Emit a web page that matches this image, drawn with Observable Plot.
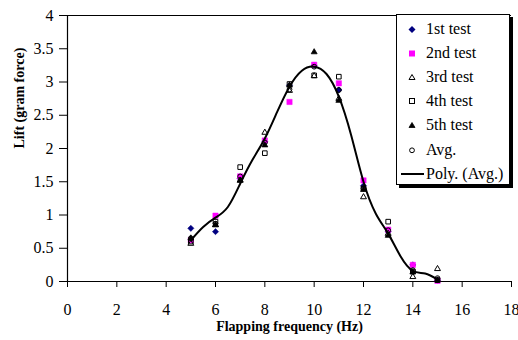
<!DOCTYPE html>
<html>
<head>
<meta charset="utf-8">
<script src="https://cdn.jsdelivr.net/npm/d3@7"></script>
<script src="https://cdn.jsdelivr.net/npm/@observablehq/plot@0.6"></script>
<style>
  html, body { margin: 0; padding: 0; background: #fff; }
  #wrap { position: relative; width: 518px; height: 340px; font-family: "Liberation Serif", "Tinos", "Times New Roman", "DejaVu Serif", serif; }
  #wrap svg text { font-family: "Liberation Serif", "Tinos", "Times New Roman", "DejaVu Serif", serif; }
  #legend { position: absolute; left: 396px; top: 14px; width: 112px; height: 169px; border: 1px solid #000; background: #fff; box-shadow: 3px 3px 0 #000; }
  .entry { position: absolute; left: 0; height: 24px; line-height: 24px; font-size: 16px; color: #000; white-space: nowrap; }
  .entry svg { position: absolute; left: 0; top: 0; }
  .entry span { position: absolute; left: 29px; top: 0; }
</style>
</head>
<body>
<div id="wrap"></div>
<script>
// ---- data ----
const freq  = [5, 6, 7, 8, 9, 10, 11, 12, 13, 14, 15];
const test1 = [0.80, 0.75, 1.55, 2.10, 2.95, 3.25, 2.88, 1.44, 0.75, 0.25, 0.02];
const test2 = [0.62, 0.99, 1.58, 2.12, 2.70, 3.26, 2.98, 1.52, 0.78, 0.25, 0.01];
const test3 = [0.57, 0.85, 1.52, 2.24, 2.87, 3.09, 2.75, 1.27, 0.72, 0.07, 0.19];
const test4 = [0.60, 0.90, 1.72, 1.93, 2.97, 3.10, 3.08, 1.40, 0.90, 0.15, 0.02];
const test5 = [0.65, 0.85, 1.52, 2.05, 2.95, 3.45, 2.72, 1.38, 0.69, 0.14, 0.02];
const avg   = [0.65, 0.87, 1.58, 2.09, 2.89, 3.23, 2.88, 1.40, 0.77, 0.17, 0.05];

// polynomial trend line (Avg.)
const polyFreq = [5, 5.5, 6, 6.5, 7, 7.5, 8, 8.5, 9, 9.5, 10, 10.5, 11, 11.5, 12, 12.5, 13, 13.5, 14, 14.5, 15];
const polyLift = [0.62, 0.82, 0.96, 1.12, 1.47, 1.83, 2.15, 2.55, 2.93, 3.17, 3.23, 3.12, 2.78, 2.2, 1.5, 1.02, 0.72, 0.38, 0.16, 0.12, 0.03];

const xTicks = [0, 2, 4, 6, 8, 10, 12, 14, 16, 18];
const yTicks = [0, 0.5, 1, 1.5, 2, 2.5, 3, 3.5, 4];
const yTickLabels = ["0", "0.5", "1", "1.5", "2", "2.5", "3", "3.5", "4"];

const xTitle = "Flapping frequency (Hz)";
const yTitle = "Lift (gram force)";
const legendLabels = ["1st test", "2nd test", "3rd test", "4th test", "5th test", "Avg.", "Poly. (Avg.)"];

// ---- tables ----
const rows = vals => freq.map((f, i) => ({f, v: vals[i]}));
const poly = polyFreq.map((f, i) => ({f, v: polyLift[i]}));
const serif = '"Liberation Serif", "Tinos", "Times New Roman", "DejaVu Serif", serif';

const chart = Plot.plot({
  width: 518,
  height: 340,
  marginLeft: 67,
  marginRight: 7,
  marginTop: 15,
  marginBottom: 59,
  style: {fontFamily: serif, fontSize: "16px", color: "#000", background: "#fff"},
  x: {domain: [0, 18]},
  y: {domain: [0, 4]},
  marks: [
    Plot.axisX({ticks: xTicks, tickSize: 6, tickPadding: 16, label: null, stroke: "#000", tickFormat: d => String(d)}),
    Plot.axisY({ticks: yTicks, tickSize: 8, tickPadding: 6, label: null, stroke: "#000", tickFormat: d => yTickLabels[yTicks.indexOf(d)]}),
    Plot.ruleX([0], {stroke: "#000", strokeWidth: 1.2}),
    Plot.ruleY([0], {stroke: "#000", strokeWidth: 1.2}),
    Plot.ruleY([4], {stroke: "#000", strokeWidth: 1}),
    Plot.dot(rows(test1), {x: "f", y: "v", symbol: "diamond2", r: 2.8, fill: "#000080", stroke: "#000080", strokeWidth: 0.5}),
    Plot.dot(rows(test2), {x: "f", y: "v", symbol: "square", r: 3, fill: "#ff00ff", stroke: "#ff00ff", strokeWidth: 0.5}),
    Plot.dot(rows(test3), {x: "f", y: "v", symbol: "triangle", r: 2.2, fill: "none", stroke: "#000", strokeWidth: 1}),
    Plot.dot(rows(test4), {x: "f", y: "v", symbol: "square", r: 2.6, fill: "none", stroke: "#000", strokeWidth: 1}),
    Plot.dot(rows(test5), {x: "f", y: "v", symbol: "triangle", r: 2.2, fill: "#000", stroke: "#000", strokeWidth: 0.8}),
    Plot.dot(rows(avg), {x: "f", y: "v", symbol: "circle", r: 2.4, fill: "none", stroke: "#000", strokeWidth: 1}),
    Plot.line(poly, {x: "f", y: "v", curve: "natural", stroke: "#000", strokeWidth: 2}),
    Plot.text([xTitle], {frameAnchor: "bottom", dy: 49, fontWeight: "bold", fontSize: 14, fill: "#000"}),
    Plot.text([yTitle], {frameAnchor: "left", dx: -48, rotate: -90, fontWeight: "bold", fontSize: 14, fill: "#000"})
  ]
});

const wrap = document.getElementById("wrap");
wrap.appendChild(chart);

// ---- legend ----
const legend = document.createElement("div");
legend.id = "legend";
const markers = [
  '<path d="M15 9 L18.5 12.5 L15 16 L11.5 12.5 Z" fill="#000080"/>',
  '<rect x="12" y="9.5" width="6" height="6" fill="#ff00ff"/>',
  '<path d="M15 9.5 L18 14.5 L12 14.5 Z" fill="none" stroke="#000" stroke-width="1"/>',
  '<rect x="12.5" y="9.5" width="5" height="5" fill="none" stroke="#000" stroke-width="1"/>',
  '<path d="M15 9.5 L18 14.5 L12 14.5 Z" fill="#000" stroke="#000" stroke-width="0.8"/>',
  '<circle cx="15" cy="12.3" r="2.4" fill="none" stroke="#000" stroke-width="1"/>',
  '<line x1="4" y1="12" x2="27" y2="12" stroke="#000" stroke-width="2"/>'
];
legendLabels.forEach((lab, i) => {
  const e = document.createElement("div");
  e.className = "entry";
  e.style.top = (2 + i * 24.1) + "px";
  e.innerHTML = `<svg width="30" height="24">${markers[i]}</svg><span>${lab}</span>`;
  legend.appendChild(e);
});
wrap.appendChild(legend);
</script>
</body>
</html>
